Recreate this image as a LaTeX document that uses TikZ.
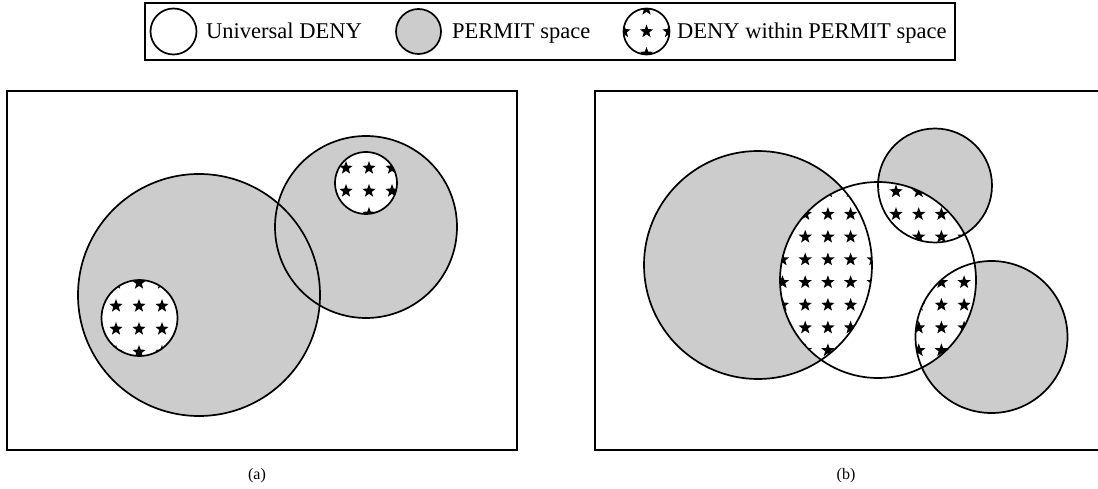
\documentclass[tikz,border=0pt]{standalone}
\usepackage{fontspec}
\setmainfont{Liberation Serif}
\definecolor{permitgray}{RGB}{204,204,204}
\newcommand\mystarat[2]{\fill[starfill,shift={(#1,#2)}] (90:7pt) -- (126:2.9pt) -- (162:7pt) -- (198:2.9pt) -- (234:7pt) -- (270:2.9pt) -- (306:7pt) -- (342:2.9pt) -- (18:7pt) -- (54:2.9pt) -- cycle;}
\begin{document}
\begin{tikzpicture}[x=1pt,y=-1pt,
  frame/.style={line width=1.8pt},
  rim/.style={line width=1.7pt},
  permit/.style={fill=permitgray},
  starfill/.style={fill=black},
  lbl/.style={anchor=base west, inner sep=0pt, font=\fontsize{22.5}{27}\selectfont},
  captext/.style={inner sep=0pt, font=\fontsize{16}{19}\selectfont}]
\useasboundingbox (0,0) rectangle (1098,489);

% ---------- legend ----------
\draw[frame] (145,3) rectangle (955,60);
\draw[rim, fill=white] (173.5,31.5) circle[radius=23];
\node[lbl] (l1) at (206,38.5) {Universal DENY};
\draw[rim, permit] (418.5,31.5) circle[radius=22.5];
\node[lbl] (l2) at (452,38.5) {PERMIT space};
\fill[white] (646.5,31.5) circle[radius=23];
\begin{scope}
  \clip (646.5,31.5) circle[radius=23];
  \foreach \i/\j in {0/0,-1/0,1/0,0/-1,0/1} {\mystarat{646.5+22.5*\i}{31.5+22.5*\j}}
\end{scope}
\draw[rim] (646.5,31.5) circle[radius=23];
\node[lbl] (l3) at (677,38.5) {DENY within PERMIT space};

% ---------- panel (a) ----------
\draw[frame] (7,91) rectangle (517,450);
\fill[permitgray] (199,295) circle[radius=121];
\fill[permitgray] (366,227) circle[radius=91];
\draw[rim] (199,295) circle[radius=121];
\draw[rim] (366,227) circle[radius=91];
\fill[white] (366,183) circle[radius=31];
\fill[white] (139.5,318) circle[radius=38];
\begin{scope}
  \clip (366,183) circle[radius=31];
  \foreach \i in {8,...,12} \foreach \j in {-8,...,-4} {\mystarat{139+23*\i}{306+23*\j}}
\end{scope}
\begin{scope}
  \clip (139.5,318) circle[radius=38];
  \foreach \i in {-2,...,2} \foreach \j in {-2,...,2} {\mystarat{139+23*\i}{306+23*\j}}
\end{scope}
\draw[rim] (366,183) circle[radius=31];
\draw[rim] (139.5,318) circle[radius=38];
\node[captext] (capa) at (257,476) {(a)};

% ---------- panel (b) ----------
\draw[frame] (595,91) rectangle (1100,450);
\fill[permitgray] (758,265) circle[radius=114];
\fill[permitgray] (935,185.5) circle[radius=57];
\fill[permitgray] (991.5,337) circle[radius=76];
\begin{scope}
  \clip (878,280) circle[radius=98];
  \fill[white] (758,265) circle[radius=114];
  \fill[white] (935,185.5) circle[radius=57];
  \fill[white] (991.5,337) circle[radius=76];
  \begin{scope}
    \clip (758,265) circle[radius=114];
    \foreach \i in {-1,...,5} \foreach \j in {-1,...,9} {\mystarat{782.5+22.7*\i}{191.5+22.7*\j}}
  \end{scope}
  \begin{scope}
    \clip (935,185.5) circle[radius=57];
    \foreach \i in {3,...,10} \foreach \j in {-1,...,3} {\mystarat{782.5+22.7*\i}{191.5+22.7*\j}}
  \end{scope}
  \begin{scope}
    \clip (991.5,337) circle[radius=76];
    \foreach \i in {4,...,10} \foreach \j in {2,...,9} {\mystarat{782.5+22.7*\i}{191.5+22.7*\j}}
  \end{scope}
\end{scope}
\draw[rim] (758,265) circle[radius=114];
\draw[rim] (878,280) circle[radius=98];
\draw[rim] (935,185.5) circle[radius=57];
\draw[rim] (991.5,337) circle[radius=76];
\node[captext] (capb) at (846,476) {(b)};
\end{tikzpicture}
\end{document}
